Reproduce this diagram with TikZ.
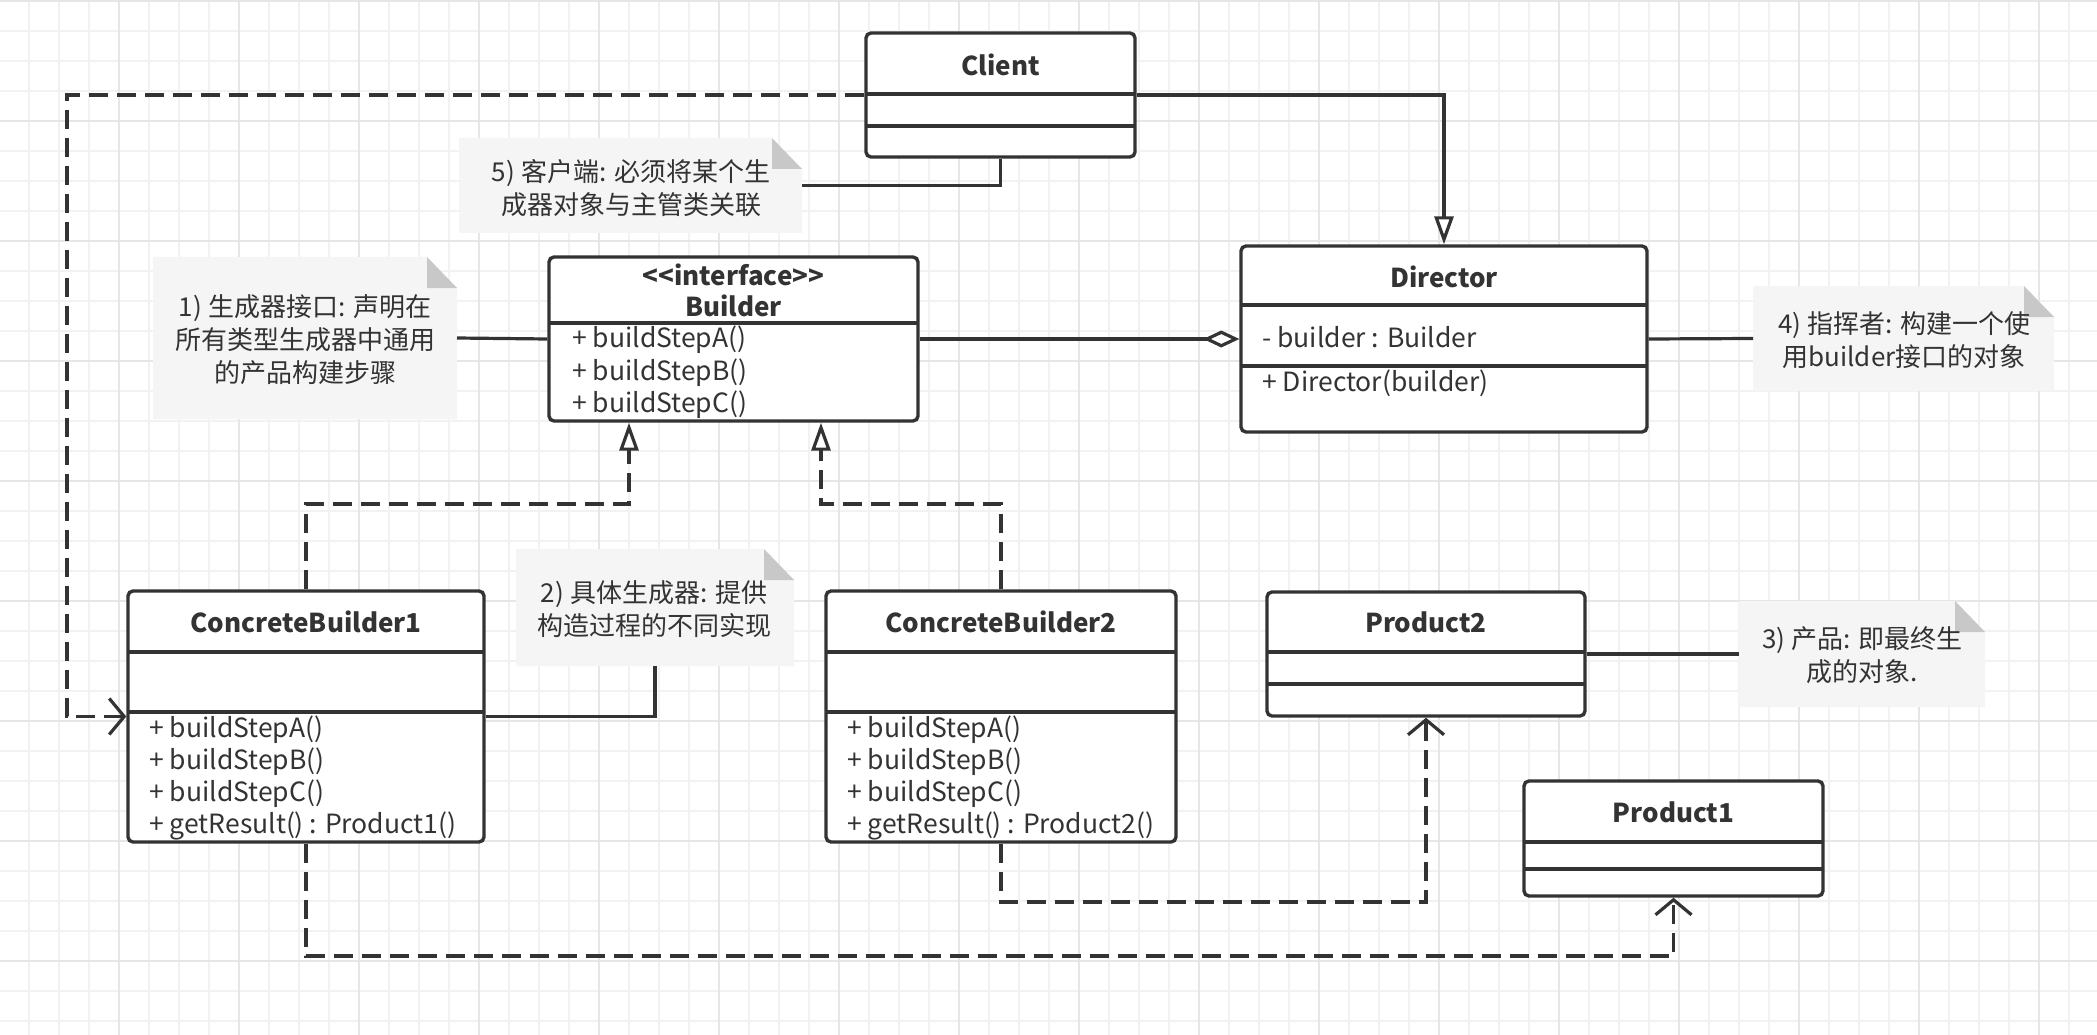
\documentclass[tikz,border=0pt]{standalone}
\usepackage{fontspec}
\setmainfont{Noto Sans CJK SC}
\usetikzlibrary{arrows.meta,calc}
\definecolor{ink}{HTML}{333333}
\definecolor{gridminor}{HTML}{F2F2F2}
\definecolor{gridmajor}{HTML}{E6E6E6}
\definecolor{notefill}{HTML}{F5F5F5}
\definecolor{foldfill}{HTML}{C8C8C8}
\newcommand{\notebg}[1]{%
  \fill[notefill] (#1.north west) -- ($(#1.north east)+(-30,0)$) -- ($(#1.north east)+(0,31)$) -- (#1.south east) -- (#1.south west) -- cycle;
  \fill[foldfill] ($(#1.north east)+(-30,0)$) -- ($(#1.north east)+(-30,31)$) -- ($(#1.north east)+(0,31)$) -- cycle;}
\begin{document}
\begin{tikzpicture}[x=1pt,y=-1pt,
  umlbox/.style={draw=ink, line width=3.4pt, rounded corners=5pt, fill=white, inner sep=0pt},
  divider/.style={draw=ink, line width=3.4pt},
  notebox/.style={inner sep=0pt, outer sep=0pt, align=center, text=ink, font=\fontsize{26}{33}\selectfont},
  ttl/.style={inner sep=0pt, text=ink, font=\bfseries\fontsize{26}{30}\selectfont},
  mth/.style={inner sep=0pt, anchor=west, text=ink, font=\fontsize{26.5}{30}\selectfont},
  conn/.style={draw=ink, line width=3.2pt},
  dashline/.style={dash pattern=on 19pt off 9pt},
  opentri/.style={-{Triangle[fill=white, length=28pt, width=19pt, line width=3.2pt]}},
  openv/.style={-{Straight Barb[length=15pt, width=36pt, line width=3.2pt]}},
  odiam/.style={-{Diamond[fill=white, length=36pt, width=17pt, line width=3.2pt]}}
]
\useasboundingbox (0,0) rectangle (2097,1035);
\fill[white] (0,0) rectangle (2097,1035);
% grid
\foreach \x in {29,59,...,2097} \draw[gridminor, line width=1.5pt] (\x,0) -- (\x,1035);
\foreach \y in {31,61,...,1035} \draw[gridminor, line width=1.5pt] (0,\y) -- (2097,\y);
\foreach \x in {119,239,...,2097} \draw[gridmajor, line width=2pt] (\x,0) -- (\x,1035);
\foreach \y in {1,121,...,1035} \draw[gridmajor, line width=2pt] (0,\y) -- (2097,\y);

% ---------- notes ----------
\node[notebox, minimum width=304pt, minimum height=162pt] (n1) at (305,338) {};
\notebg{n1}
\node[notebox] (n1t) at (305,340) {1) 生成器接口: 声明在\\所有类型生成器中通用\\的产品构建步骤};
\node[notebox, minimum width=343pt, minimum height=95pt] (n5) at (630.5,185.5) {};
\notebg{n5}
\node[notebox] (n5t) at (631,188) {5) 客户端: 必须将某个生\\成器对象与主管类关联};
\node[notebox, minimum width=301pt, minimum height=105pt] (n4) at (1903.5,338.5) {};
\notebg{n4}
\node[notebox] (n4t) at (1904,340) {4) 指挥者: 构建一个使\\用builder接口的对象};
\node[notebox, minimum width=278pt, minimum height=117pt] (n2) at (655,607.5) {};
\notebg{n2}
\node[notebox] (n2t) at (654,609) {2) 具体生成器: 提供\\构造过程的不同实现};
\node[notebox, minimum width=246pt, minimum height=106pt] (n3) at (1862,654) {};
\notebg{n3}
\node[notebox] (n3t) at (1862,655.5) {3) 产品: 即最终生\\成的对象.};

% ---------- classes ----------
% Client
\node[umlbox, minimum width=269pt, minimum height=124pt] (client) at (1000.5,95) {};
\draw[divider] (866,94) -- (1135,94);
\draw[divider] (866,126) -- (1135,126);
\node[ttl] (clientt) at (1000.5,65) {Client};
% Director
\node[umlbox, minimum width=406pt, minimum height=186pt] (director) at (1444,339) {};
\draw[divider] (1241,305) -- (1647,305);
\draw[divider] (1241,366) -- (1647,366);
\node[ttl] (directort) at (1444,277) {Director};
\node[mth] (dattr) at (1262,337) {- builder : Builder};
\node[mth] (dm) at (1262,383) {+ Director(builder)};
% Builder
\node[umlbox, minimum width=369pt, minimum height=164pt] (builder) at (733.5,339) {};
\draw[divider] (549,323) -- (918,323);
\node[ttl] (buildi) at (733.5,275) {{<}{<}interface{>}{>}};
\node[ttl] (buildt) at (733.5,306) {Builder};
\node[mth] (bm1) at (572,340) {+ buildStepA()};
\node[mth] (bm2) at (572,373) {+ buildStepB()};
\node[mth] (bm3) at (572,405) {+ buildStepC()};
% ConcreteBuilder1
\node[umlbox, minimum width=356pt, minimum height=251pt] (cb1) at (306,716.5) {};
\draw[divider] (128,652) -- (484,652);
\draw[divider] (128,712) -- (484,712);
\node[ttl] (cb1t) at (306,622) {ConcreteBuilder1};
\node[mth] (c1m1) at (149,730) {+ buildStepA()};
\node[mth] (c1m2) at (149,762) {+ buildStepB()};
\node[mth] (c1m3) at (149,794) {+ buildStepC()};
\node[mth] (c1m4) at (149,826) {+ getResult() : Product1()};
% ConcreteBuilder2
\node[umlbox, minimum width=350pt, minimum height=251pt] (cb2) at (1001,716.5) {};
\draw[divider] (826,652) -- (1176,652);
\draw[divider] (826,712) -- (1176,712);
\node[ttl] (cb2t) at (1001,622) {ConcreteBuilder2};
\node[mth] (c2m1) at (847,730) {+ buildStepA()};
\node[mth] (c2m2) at (847,762) {+ buildStepB()};
\node[mth] (c2m3) at (847,794) {+ buildStepC()};
\node[mth] (c2m4) at (847,826) {+ getResult() : Product2()};
% Product2
\node[umlbox, minimum width=318pt, minimum height=124pt] (product2) at (1426,654) {};
\draw[divider] (1267,652) -- (1585,652);
\draw[divider] (1267,684) -- (1585,684);
\node[ttl] (p2t) at (1426,622) {Product2};
% Product1
\node[umlbox, minimum width=299pt, minimum height=115pt] (product1) at (1673.5,838.5) {};
\draw[divider] (1524,842) -- (1823,842);
\draw[divider] (1524,869) -- (1823,869);
\node[ttl] (p1t) at (1673.5,812) {Product1};

% ---------- connectors ----------
\coordinate (cl) at (67,95);
\coordinate (r1) at (629,504);
\coordinate (r2) at (821,504);
\coordinate (d1) at (306,956);
\coordinate (d2) at (1001,902);

\draw[conn, opentri] (client.east) -| (director.north);
\draw[conn, dashline, openv] (client.west) -- (cl) |- (cb1.west);
\draw[conn, odiam] (builder.east) -- (director.west);
\draw[conn] (n1.east) -- (builder.west);
\draw[conn] (n5.east) -| (client.south);
\draw[conn] (director.east) -- (n4.west);
\draw[conn, dashline, opentri] (cb1.north) |- (r1) -- (r1 |- builder.south);
\draw[conn, dashline, opentri] (cb2.north) |- (r2) -- (r2 |- builder.south);
\draw[conn] (cb1.east) -| (n2.south);
\draw[conn, dashline, openv] (cb1.south) -- (d1) -| (product1.south);
\draw[conn, dashline, openv] (cb2.south) -- (d2) -| (product2.south);
\draw[conn] (product2.east) -- (n3.west);
\end{tikzpicture}
\end{document}
